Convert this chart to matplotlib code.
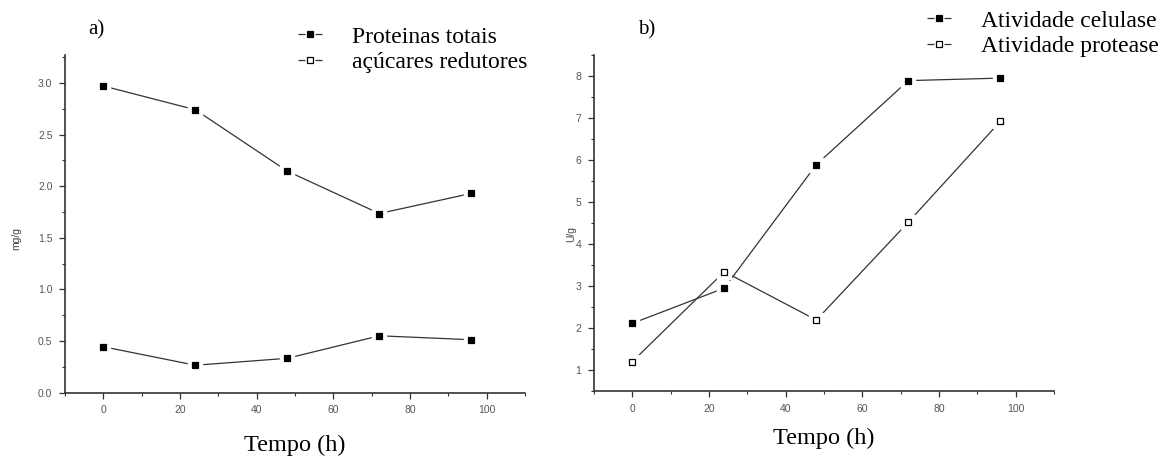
import numpy as np
import matplotlib
matplotlib.use("Agg")
import matplotlib.pyplot as plt
from matplotlib.lines import Line2D
from matplotlib.ticker import MultipleLocator

# ---- dados ----
tempo = [0, 24, 48, 72, 96]

# a) mg/g
proteinas = [2.97, 2.74, 2.145, 1.735, 1.93]
acucares = [0.445, 0.266, 0.333, 0.551, 0.513]

# b) U/g
celulase = [2.11, 2.95, 5.89, 7.89, 7.95]
protease = [1.20, 3.34, 2.19, 4.52, 6.92]

SERIF = ['Liberation Serif', 'DejaVu Serif']
SANS = ['Liberation Sans', 'DejaVu Sans']
LINE = '#333333'

W, H = 1167, 459
fig = plt.figure(figsize=(W / 100, H / 100), dpi=100)
ax_a = fig.add_axes([65 / W, 66.3 / H, 460 / W, 337.7 / H])
ax_b = fig.add_axes([594 / W, 68 / H, 460 / W, 336 / H])


def serie(ax, x, y, filled):
    ax.plot(x, y, color=LINE, lw=0.9, zorder=2)
    # quadrado branco por baixo -> pequeno intervalo na linha (estilo Origin)
    ax.plot(x, y, ls='none', marker='s', ms=10, mfc='white', mec='white', zorder=3)
    ax.plot(x, y, ls='none', marker='s', ms=4.5,
            mfc='black' if filled else 'white', mec='black', mew=0.9, zorder=4)


def handle(filled):
    # "-■-" : traço, intervalo, marcador, intervalo, traço
    return Line2D([], [], color=LINE, lw=0.9, ls=(0, (5.6, 8.0)),
                  marker='s', ms=4, mfc='black' if filled else 'white',
                  mec='black', mew=0.9)


def estilo(ax, ymin, ymax, ymaj, ymin_loc):
    for s in ['top', 'right']:
        ax.spines[s].set_visible(False)
    for s in ['left', 'bottom']:
        ax.spines[s].set_color(LINE)
        ax.spines[s].set_linewidth(1.2)
    ax.set_xlim(-10, 110)
    ax.set_ylim(ymin, ymax)
    ax.xaxis.set_major_locator(MultipleLocator(20))
    ax.xaxis.set_minor_locator(MultipleLocator(10))
    ax.yaxis.set_major_locator(MultipleLocator(ymaj))
    ax.yaxis.set_minor_locator(MultipleLocator(ymin_loc))
    ax.tick_params(which='major', direction='out', length=4, width=0.9,
                   color=LINE, labelsize=7.5, labelcolor='#555555', pad=5)
    ax.tick_params(which='minor', direction='out', length=2.5, width=0.8, color=LINE)
    for lab in ax.get_xticklabels() + ax.get_yticklabels():
        lab.set_family(SANS)


leg_kw = dict(loc='upper left', frameon=False, borderpad=0, borderaxespad=0,
              handlelength=1.05, handletextpad=1.25, labelspacing=0.17,
              prop={'family': SERIF, 'size': 17})

# ---- a) ----
serie(ax_a, tempo, proteinas, True)
serie(ax_a, tempo, acucares, True)
estilo(ax_a, 0, 3.27, 0.5, 0.25)
ax_a.yaxis.set_major_formatter(plt.FormatStrFormatter('%.1f'))
ax_a.set_xlabel('Tempo (h)', family=SERIF, fontsize=17.5, va='center')
ax_a.xaxis.set_label_coords(0.5, -0.155)
ax_a.set_ylabel('mg/g', family=SANS, fontsize=7.5, color='#444444', va='center')
ax_a.yaxis.set_label_coords(-0.1065, 0.458)

fig.legend([handle(True), handle(False)], ['Proteinas totais', 'açúcares redutores'],
           bbox_to_anchor=(298 / W, 1 - 26 / H), **leg_kw)
fig.text(88 / W, 1 - 30 / H, 'a)', family=SERIF, fontsize=15, va='center')

# ---- b) ----
serie(ax_b, tempo, celulase, True)
serie(ax_b, tempo, protease, False)
estilo(ax_b, 0.5, 8.5, 1, 0.5)
ax_b.set_xlabel('Tempo (h)', family=SERIF, fontsize=17.5, va='center')
ax_b.xaxis.set_label_coords(0.5, -0.14)
ax_b.set_ylabel('U/g', family=SANS, fontsize=7.5, color='#444444', va='center')
ax_b.yaxis.set_label_coords(-0.05, 0.467)

fig.legend([handle(True), handle(False)], ['Atividade celulase', 'Atividade protease'],
           bbox_to_anchor=(927 / W, 1 - 10 / H), **leg_kw)
fig.text(638 / W, 1 - 30 / H, 'b)', family=SERIF, fontsize=15, va='center')

fig.savefig('out.png', dpi=100, facecolor='white')
